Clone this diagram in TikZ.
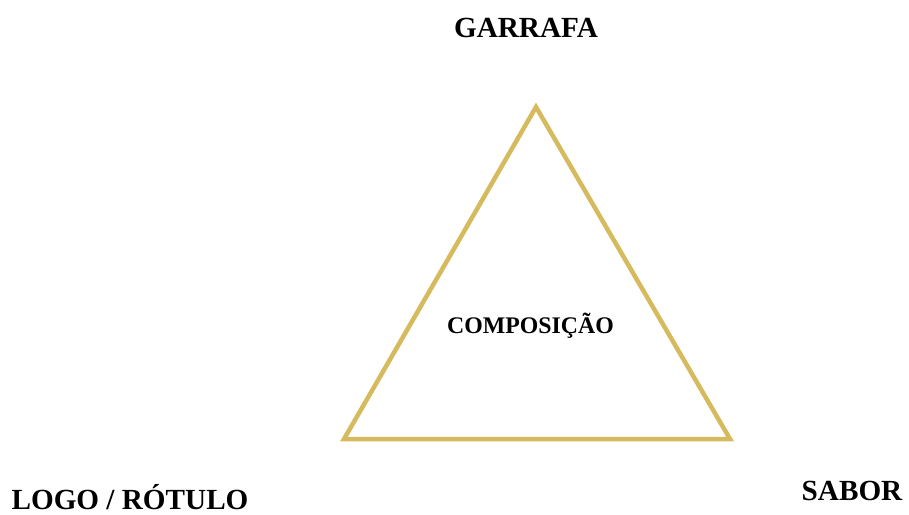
\documentclass[tikz,border=0pt]{standalone}
\usepackage{fontspec}
\setmainfont{Liberation Serif}
\definecolor{gold}{RGB}{214,186,94}
\begin{document}
\begin{tikzpicture}[x=1pt,y=-1pt,
  lbl/.style={font=\bfseries\fontsize{29.2}{31}\selectfont, anchor=base, inner sep=0pt},
  ctr/.style={font=\bfseries\fontsize{23.8}{26}\selectfont, anchor=base, inner sep=0pt},
  tri/.style={draw=gold, line width=4.5pt, line join=miter}]
\useasboundingbox (0,0) rectangle (909,514);
\coordinate (top) at (536,107);
\coordinate (bl) at (344,439);
\coordinate (br) at (730,439);
\draw[tri] (top) -- (bl) -- (br) -- cycle;
\node[lbl] (garrafa) at (526,37) {GARRAFA};
\node[lbl] (logo) at (130,509) {LOGO / RÓTULO};
\node[lbl] (sabor) at (852,500) {SABOR};
\node[ctr] (comp) at (530.5,333) {COMPOSIÇÃO};
\end{tikzpicture}
\end{document}
